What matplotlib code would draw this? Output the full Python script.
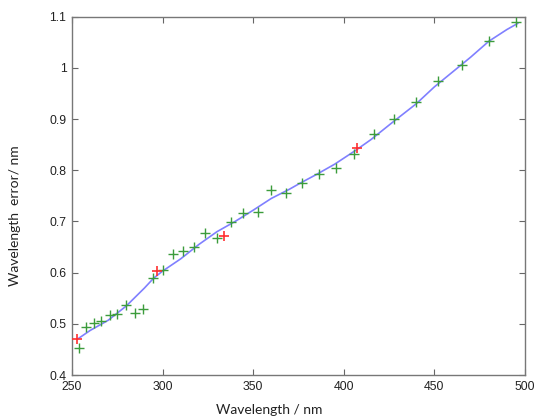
import matplotlib
matplotlib.use("Agg")
import matplotlib.pyplot as plt

# measured points (green)
green_x = [254, 258, 262, 266, 271, 275, 280, 285, 289, 294.5, 300, 305.5, 311, 317.5,
           323.5, 330, 337.5, 344.5, 352.5, 360, 368, 377, 386.5, 395.5, 405.5, 416.5,
           427.5, 440, 452, 465.5, 480, 495]
green_y = [0.452, 0.494, 0.502, 0.505, 0.517, 0.519, 0.537, 0.521, 0.529, 0.589, 0.605,
           0.636, 0.643, 0.651, 0.677, 0.667, 0.698, 0.716, 0.718, 0.762, 0.755, 0.775,
           0.792, 0.805, 0.831, 0.870, 0.900, 0.933, 0.975, 1.006, 1.052, 1.090]

# highlighted points (red)
red_x = [253, 296.7, 334, 407.5]
red_y = [0.471, 0.603, 0.672, 0.843]

# fitted curve (blue)
fit_x = [253, 260, 270, 280, 290, 295, 300, 310, 320, 330, 340, 350, 360, 370, 376,
         385, 395, 407, 415, 427, 440, 450, 460, 470, 480, 490, 496]
fit_y = [0.470, 0.487, 0.507, 0.535, 0.570, 0.589, 0.603, 0.627, 0.655, 0.680, 0.700,
         0.722, 0.745, 0.763, 0.775, 0.792, 0.812, 0.840, 0.860, 0.894, 0.930, 0.963,
         0.992, 1.021, 1.052, 1.075, 1.087]

xticks = [250, 300, 350, 400, 450, 500]
yticks = [0.4, 0.5, 0.6, 0.7, 0.8, 0.9, 1.0, 1.1]
yticklabels = ["0.4", "0.5", "0.6", "0.7", "0.8", "0.9", "1", "1.1"]

fig = plt.figure(figsize=(5.38, 4.19), dpi=100)
ax = fig.add_axes([0.1338, 0.105, 0.8420, 0.855])

ax.plot(fit_x, fit_y, '-', color='#8080ff', lw=1.2, zorder=2)
ax.plot(green_x, green_y, '+', color='#3c9c3c', ms=7, mew=1.0, ls='none', zorder=3)
ax.plot(red_x, red_y, '+', color='#ff3030', ms=7, mew=1.2, ls='none', zorder=4)

ax.set_xlim(250, 500)
ax.set_ylim(0.4, 1.1)
ax.set_xticks(xticks)
ax.set_yticks(yticks)
ax.set_yticklabels(yticklabels)

for lab in ax.get_xticklabels() + ax.get_yticklabels():
    lab.set_fontfamily(['Liberation Sans', 'DejaVu Sans'])
    lab.set_fontsize(8.8)
    lab.set_color('#222222')

ax.tick_params(direction='in', top=True, right=True, length=4, width=0.8,
               color='#666666', pad=4)
for s in ax.spines.values():
    s.set_color('#777777')
    s.set_linewidth(1.0)

fig.text(0.50, 0.022, "Wavelength / nm", ha='center', va='center',
         family=['Lato', 'DejaVu Sans'], fontsize=10, color='#222222')
fig.text(0.028, 0.485, "Wavelength  error/ nm", ha='center', va='center',
         rotation=90, family=['Lato', 'DejaVu Sans'], fontsize=10, color='#222222')

fig.savefig("out.png", dpi=100)
